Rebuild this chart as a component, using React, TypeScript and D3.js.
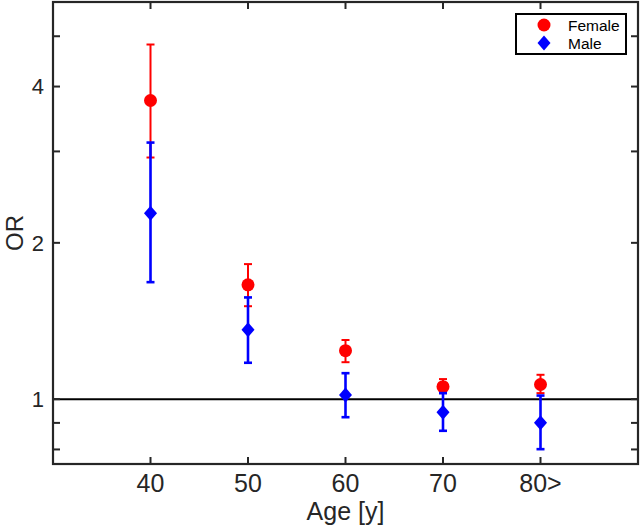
import React from "react";
import * as d3 from "d3";

const ages = [40, 50, 60, 70, 80];
const ageLabels = ["40", "50", "60", "70", "80>"];
const femaleOR = [3.76, 1.66, 1.24, 1.057, 1.067];
const femaleLo = [2.92, 1.51, 1.178, 1.027, 1.027];
const femaleHi = [4.82, 1.82, 1.3, 1.093, 1.114];
const maleOR = [2.28, 1.36, 1.019, 0.944, 0.901];
const maleLo = [1.68, 1.175, 0.923, 0.869, 0.801];
const maleHi = [3.12, 1.57, 1.122, 1.027, 1.016];
const yTicks = [0.8, 0.9, 1, 2, 3, 4, 5];
const yTickLabels = ["", "", "1", "2", "", "4", ""];

const W = 641;
const H = 526;
const L = 53, R = 638, T = 2, B = 464;
const AX = "#262626";
const FONT = "'Liberation Sans', Arial, Helvetica, sans-serif";

export default function App() {
  const x = d3.scaleLinear().domain([30, 90]).range([L, R]);
  const y = d3.scaleLog().domain([0.75, 5.82]).range([B, T]);
  const cap = 4;
  const tl = 7;

  const errBars = (lo: number[], hi: number[], color: string, sw: number) =>
    ages.map((a, i) => {
      const cx = x(a);
      return (
        <g key={"e" + color + i} stroke={color} strokeWidth={sw}>
          <line x1={cx} x2={cx} y1={y(lo[i])} y2={y(hi[i])} />
          <line x1={cx - cap} x2={cx + cap} y1={y(lo[i])} y2={y(lo[i])} />
          <line x1={cx - cap} x2={cx + cap} y1={y(hi[i])} y2={y(hi[i])} />
        </g>
      );
    });

  const diamond = (cx: number, cy: number) =>
    `M${cx},${cy - 7.5}L${cx + 6.5},${cy}L${cx},${cy + 7.5}L${cx - 6.5},${cy}Z`;

  return (
    <svg
      width={W}
      height={H}
      style={{ position: "absolute", left: 0, top: 0, background: "#fff" }}
      fontFamily={FONT}
    >
      <rect x={0} y={0} width={W} height={H} fill="#fff" />
      {/* reference line at OR = 1 */}
      <line x1={L} x2={R} y1={y(1)} y2={y(1)} stroke="#000" strokeWidth={2} />

      {errBars(femaleLo, femaleHi, "#ff0000", 2)}
      {ages.map((a, i) => (
        <circle key={"f" + i} cx={x(a)} cy={y(femaleOR[i])} r={6.5} fill="#ff0000" />
      ))}
      {errBars(maleLo, maleHi, "#0000ff", 2.6)}
      {ages.map((a, i) => (
        <path key={"m" + i} d={diamond(x(a), y(maleOR[i]))} fill="#0000ff" />
      ))}

      {/* ticks */}
      {ages.map((a, i) => (
        <g key={"xt" + i} stroke={AX} strokeWidth={2}>
          <line x1={x(a)} x2={x(a)} y1={B} y2={B - tl} />
          <line x1={x(a)} x2={x(a)} y1={T} y2={T + tl} />
        </g>
      ))}
      {yTicks.map((v, i) => (
        <g key={"yt" + i} stroke={AX} strokeWidth={2}>
          <line x1={L} x2={L + tl} y1={y(v)} y2={y(v)} />
          <line x1={R} x2={R - tl} y1={y(v)} y2={y(v)} />
        </g>
      ))}

      {/* axes box */}
      <rect x={L} y={T} width={R - L} height={B - T} fill="none" stroke={AX} strokeWidth={2.2} />

      {/* tick labels */}
      {ages.map((a, i) => (
        <text key={"xl" + i} x={x(a)} y={492} textAnchor="middle" fontSize={25} fill={AX}>
          {ageLabels[i]}
        </text>
      ))}
      {yTicks.map((v, i) =>
        yTickLabels[i] ? (
          <text key={"yl" + i} x={44} y={y(v)} dy="0.36em" textAnchor="end" fontSize={22} fill={AX}>
            {yTickLabels[i]}
          </text>
        ) : null
      )}

      {/* axis labels */}
      <text x={(L + R) / 2} y={520} textAnchor="middle" fontSize={25} fill={AX}>
        Age [y]
      </text>
      <text
        transform={`translate(23, ${(T + B) / 2}) rotate(-90)`}
        textAnchor="middle"
        fontSize={24}
        fill={AX}
      >
        OR
      </text>

      {/* legend */}
      <rect x={516} y={14} width={110} height={40} fill="#fff" stroke="#000" strokeWidth={2} />
      <circle cx={544} cy={25} r={6.5} fill="#ff0000" />
      <path d={diamond(544, 43)} fill="#0000ff" />
      <text x={568} y={30.5} fontSize={15.5} fill="#000">Female</text>
      <text x={568} y={49} fontSize={15.5} fill="#000">Male</text>
    </svg>
  );
}
